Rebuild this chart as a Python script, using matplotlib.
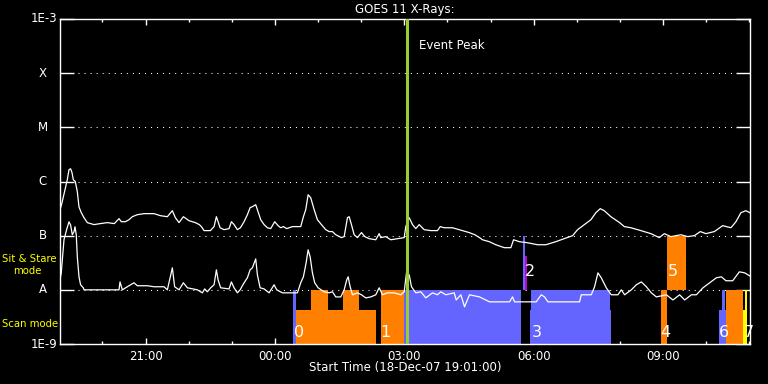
import matplotlib
matplotlib.use("Agg")
import matplotlib.pyplot as plt
import numpy as np

# time in hours after 18-Dec-07 19:00 UT
long_t = [0.0, 0.063, 0.116, 0.186, 0.225, 0.262, 0.295, 0.325, 0.371, 0.418,
          0.457, 0.51, 0.573, 0.65, 0.805, 0.951, 1.114, 1.276, 1.385, 1.439,
          1.531, 1.617, 1.694, 1.81, 1.965, 2.197, 2.343, 2.506, 2.622, 2.691,
          2.777, 2.877, 3.009, 3.155, 3.248, 3.295, 3.357, 3.503, 3.589, 3.643,
          3.729, 3.821, 3.937, 3.991, 4.053, 4.13, 4.2, 4.285, 4.362, 4.425,
          4.478, 4.555, 4.594, 4.671, 4.749, 4.826, 4.903, 4.995, 5.074, 5.135,
          5.197, 5.274, 5.406, 5.599, 5.661, 5.715, 5.77, 5.831, 5.91, 5.986,
          6.079, 6.179, 6.258, 6.334, 6.411, 6.497, 6.543, 6.606, 6.682, 6.722,
          6.775, 6.838, 6.914, 7.007, 7.084, 7.186, 7.339, 7.418, 7.455, 7.571,
          7.687, 7.842, 7.998, 8.035, 8.114, 8.19, 8.267, 8.346, 8.462, 8.615,
          8.77, 8.833, 8.926, 9.118, 9.274, 9.506, 9.636, 9.745, 9.814, 9.97,
          10.123, 10.318, 10.471, 10.534, 10.666, 10.858, 11.09, 11.283, 11.515, 11.71,
          11.903, 12.019, 12.174, 12.327, 12.443, 12.545, 12.638, 12.791, 12.993, 13.102,
          13.255, 13.487, 13.719, 13.914, 14.03, 14.183, 14.415, 14.571, 14.726, 14.865,
          14.995, 15.19, 15.383, 15.575, 15.691, 15.807, 15.923, 16.009]
# 1-8 A flux in units of 1e-7 W/m^2 (B class)
long_b = [2.66, 4.06, 6.2, 10.8, 16.5, 17.2, 14.6, 10.8, 10.0, 6.5,
          3.4, 2.66, 2.15, 1.74, 1.6, 1.67, 1.74, 1.67, 2.06, 1.81,
          1.81, 1.97, 2.24, 2.44, 2.55, 2.55, 2.34, 2.24, 2.89, 2.15,
          1.74, 2.24, 1.89, 1.74, 1.6, 1.47, 1.24, 1.24, 1.47, 2.24,
          1.40, 1.29, 1.35, 1.81, 1.6, 1.29, 1.40, 1.81, 2.44, 3.29,
          3.43, 3.73, 3.02, 1.97, 1.6, 1.40, 1.35, 1.81, 1.53, 1.40,
          1.47, 1.35, 1.47, 1.47, 2.24, 3.02, 5.7, 5.0, 3.02, 1.97,
          1.6, 1.29, 1.19, 1.19, 1.04, 0.96, 0.92, 0.96, 2.15, 2.24,
          1.6, 1.04, 0.92, 1.14, 0.96, 0.88, 0.84, 1.09, 0.92, 0.96,
          0.84, 0.88, 0.92, 1.47, 2.15, 1.6, 1.35, 1.6, 1.29, 1.24,
          1.24, 1.47, 1.40, 1.40, 1.29, 1.14, 1.04, 0.92, 0.84, 0.775,
          0.68, 0.60, 0.60, 0.84, 0.775, 0.74, 0.68, 0.68, 0.775, 0.88,
          1.0, 1.29, 1.6, 1.97, 2.66, 3.15, 2.89, 2.24, 1.74, 1.47,
          1.40, 1.24, 1.09, 0.92, 1.09, 0.96, 1.04, 0.96, 1.0, 1.19,
          1.09, 1.19, 1.53, 1.40, 1.81, 2.66, 2.89, 2.66]

short_t = [0.016, 0.046, 0.109, 0.169, 0.225, 0.262, 0.302, 0.341, 0.364, 0.394,
           0.418, 0.457, 0.494, 0.557, 0.573, 1.385, 1.408, 1.462, 1.578, 1.733,
           1.81, 2.042, 2.197, 2.429, 2.506, 2.622, 2.675, 2.777, 2.877, 2.97,
           3.202, 3.318, 3.371, 3.434, 3.51, 3.589, 3.643, 3.682, 3.742, 3.937,
           3.991, 4.053, 4.13, 4.193, 4.285, 4.362, 4.425, 4.478, 4.555, 4.594,
           4.657, 4.749, 4.865, 4.981, 5.042, 5.174, 5.522, 5.599, 5.661, 5.724,
           5.77, 5.817, 5.87, 5.923, 6.002, 6.141, 6.258, 6.334, 6.411, 6.527,
           6.606, 6.666, 6.698, 6.745, 6.798, 6.914, 7.007, 7.107, 7.223, 7.339,
           7.418, 7.494, 7.61, 7.766, 7.919, 7.998, 8.051, 8.114, 8.167, 8.267,
           8.383, 8.499, 8.654, 8.77, 8.847, 8.963, 9.158, 9.204, 9.311, 9.397,
           9.513, 9.745, 9.977, 10.441, 10.51, 10.557, 11.06, 11.176, 11.253, 11.33,
           12.065, 12.104, 12.336, 12.413, 12.49, 12.568, 12.684, 12.8, 12.954, 13.032,
           13.109, 13.265, 13.381, 13.497, 13.613, 13.729, 13.845, 14.077, 14.23, 14.385,
           14.501, 14.657, 14.773, 14.926, 15.081, 15.237, 15.353, 15.46, 15.615, 15.77,
           15.893, 16.009]
# 0.5-4 A flux in units of 1e-8 W/m^2 (A class)
short_a = [1.53, 2.06, 8.4, 12.8, 18.0, 15.8, 10.4, 11.8, 14.6, 10.4,
           4.07, 1.74, 1.24, 1.09, 1.0, 1.0, 1.40, 1.0, 1.14, 1.35,
           1.19, 1.19, 1.14, 1.14, 1.0, 2.55, 1.14, 1.0, 1.35, 1.09,
           1.0, 0.88, 1.04, 0.92, 1.09, 1.24, 2.34, 1.53, 1.09, 1.04,
           1.40, 1.09, 0.88, 1.0, 1.35, 1.67, 2.34, 2.55, 3.73, 1.89,
           1.09, 1.04, 0.88, 1.24, 1.0, 0.88, 0.88, 1.35, 1.74, 3.15,
           5.48, 4.07, 2.06, 1.35, 1.09, 0.92, 0.88, 0.92, 0.74, 0.74,
           1.0, 1.53, 1.74, 1.14, 0.81, 0.88, 0.81, 0.71, 0.74, 0.81,
           1.09, 0.81, 0.88, 0.88, 0.81, 0.92, 2.06, 1.89, 1.14, 0.88,
           0.92, 0.71, 0.88, 0.81, 0.92, 0.81, 0.88, 0.65, 0.81, 0.486,
           0.81, 0.74, 0.60, 0.60, 0.74, 0.60, 0.60, 0.81, 0.74, 0.60,
           0.60, 0.81, 0.81, 1.14, 2.06, 1.67, 1.09, 0.81, 0.81, 1.0,
           0.81, 1.0, 1.24, 1.40, 1.14, 0.88, 0.74, 0.81, 0.65, 0.81,
           0.65, 0.81, 0.81, 1.09, 1.35, 1.67, 1.74, 1.47, 1.47, 2.15,
           2.06, 1.81]

peak_t = 8.074

# observing blocks
bar_start = [5.43, 5.48, 5.847, 6.589, 7.471, 8.005, 10.742, 10.789, 10.905,
             10.928, 12.761, 13.944, 14.084, 15.29, 15.36, 15.452, 15.858, 15.893]
bar_end = [5.48, 7.355, 6.241, 6.961, 8.005, 10.696, 10.789, 10.835, 10.928,
           12.761, 12.784, 14.084, 14.524, 15.452, 15.429, 15.847, 15.905, 15.94]
bar_kind = ['blue', 'orange', 'orange', 'orange', 'orange', 'blue', 'blue', 'magenta', 'blue',
            'blue', 'blue', 'orange', 'orange', 'blue', 'blue', 'orange', 'yellow', 'yellow']
bar_band = ['scan', 'scan_lo', 'scan', 'scan', 'scan', 'scan', 'sit', 'sit_lo', 'scan_lo',
            'scan', 'scan_lo', 'scan', 'sit', 'scan_lo', 'scan', 'scan', 'scan_lo', 'scan']

group_names = ['0', '1', '2', '3', '4', '5', '6', '7']
group_t = [5.45, 7.45, 10.79, 10.95, 13.93, 14.1, 15.29, 15.88]
group_band = ['scan', 'scan', 'sit', 'scan', 'scan', 'sit', 'scan', 'scan']

level_vals = [1e-9, 1e-8, 1e-7, 1e-6, 1e-5, 1e-4, 1e-3]
level_names = ['1E-9', 'A', 'B', 'C', 'M', 'X', '1E-3']

tick_hours = [2, 5, 8, 11, 14]
tick_names = ['21:00', '00:00', '03:00', '06:00', '09:00']

colors = {'blue': '#6464ff', 'orange': '#ff8000', 'magenta': '#c000d0', 'yellow': '#ffff00'}
bands = {'scan': (1e-9, 1e-8), 'scan_lo': (1e-9, 4.3e-9),
         'sit': (1e-8, 1e-7), 'sit_lo': (1e-8, 4.2e-8)}
label_y = {'scan': 1.6e-9, 'sit': 2.2e-8}

fig = plt.figure(figsize=(7.68, 3.84), dpi=100, facecolor='black')
ax = fig.add_axes([60 / 768, 1 - 344 / 384, 690 / 768, 325 / 384])
ax.set_facecolor('black')
ax.set_yscale('log')
ax.set_ylim(1e-9, 1e-3)
ax.set_xlim(1 / 60, 16 + 1 / 60)

for s, e, k, b in zip(bar_start, bar_end, bar_kind, bar_band):
    lo, hi = bands[b]
    ax.bar(s, hi - lo, width=e - s, bottom=lo, align='edge', color=colors[k],
           linewidth=0, zorder=2)

for name, t, b in zip(group_names, group_t, group_band):
    ax.text(t, label_y[b], name, color='white', fontsize=11.5, ha='left', va='center', zorder=5)

ax.plot(long_t, np.array(long_b) * 1e-7, color='white', lw=0.9, zorder=3)
ax.plot(short_t, np.array(short_a) * 1e-8, color='white', lw=0.9, zorder=3)

ax.axvline(peak_t, color='#9acd32', lw=2.2, zorder=4)
ax.text(peak_t + 0.26, 3.2e-4, 'Event Peak', color='white', fontsize=8.5, va='center')

for v in level_vals[1:-1]:
    ax.axhline(v, xmin=0.026, xmax=0.98, color='white', lw=0.75, ls=(0, (1, 4.8)), zorder=1)

# y axis labels
ax.set_yticks(level_vals)
ax.set_yticklabels([])
ax.minorticks_off()
ytr = ax.get_yaxis_transform()
for v, n in zip(level_vals, level_names):
    if n.startswith('1E'):
        ax.text(-0.004, v, n, transform=ytr, color='white', fontsize=8.5, ha='right', va='center')
    else:
        ax.text(-0.025, v, n, transform=ytr, color='white', fontsize=8.5, ha='center', va='center')
ax.tick_params(axis='y', which='both', direction='in', length=10, width=1,
               color='white', left=True, right=True)

ax.set_xticks(tick_hours)
ax.set_xticks(np.arange(1, 17), minor=True)
ax.set_xticklabels(tick_names)
ax.tick_params(axis='x', which='major', direction='in', length=4.3, width=1,
               color='white', labelcolor='white', labelsize=8.5, top=True, pad=4)
ax.tick_params(axis='x', which='minor', direction='in', length=2.2, width=1,
               color='white', top=True)
for sp in ax.spines.values():
    sp.set_color('white')
    sp.set_linewidth(1)

fig.text(405 / 768, 1 - 9 / 384, 'GOES 11 X-Rays:', color='white', fontsize=8.5, ha='center', va='center')
fig.text(405 / 768, 1 - 368 / 384, 'Start Time (18-Dec-07 19:01:00)', color='white', fontsize=8.5,
         ha='center', va='center')
fig.text(2 / 768, 1 - 259 / 384, 'Sit & Stare', color='yellow', fontsize=7.3, ha='left', va='center')
fig.text(13 / 768, 1 - 271 / 384, 'mode', color='yellow', fontsize=7.3, ha='left', va='center')
fig.text(2 / 768, 1 - 324 / 384, 'Scan mode', color='yellow', fontsize=7.3, ha='left', va='center')

fig.savefig('out.png', dpi=100, facecolor='black')
